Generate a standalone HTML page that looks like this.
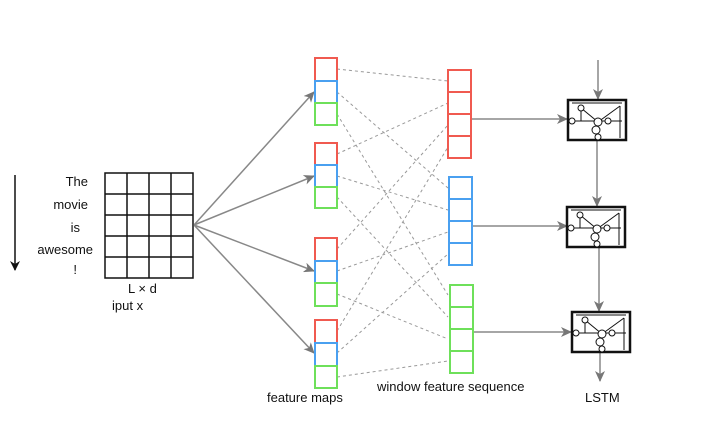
<!DOCTYPE html>
<html><head><meta charset="utf-8"><style>
html,body{margin:0;padding:0;background:#fff;}
svg{display:block;font-family:"Liberation Sans",sans-serif;}
</style></head><body>
<svg width="709" height="423" viewBox="0 0 709 423" xmlns="http://www.w3.org/2000/svg">
<defs>
<marker id="ar" markerWidth="12" markerHeight="10" refX="10" refY="5" orient="auto" markerUnits="userSpaceOnUse">
<path d="M0,0 L11,5 L0,10 L3,5 z" fill="#777"/></marker>
<marker id="ab" markerWidth="10" markerHeight="10" refX="9" refY="5" orient="auto" markerUnits="userSpaceOnUse">
<path d="M0,0 L10,5 L0,10 L3,5 z" fill="#111"/></marker>
<g id="lstm">
<rect x="0" y="0" width="58" height="40" fill="#fff" stroke="#111" stroke-width="2.5"/>
<g stroke="#111" stroke-width="1" fill="#fff">
<line x1="4" y1="21" x2="54" y2="21"/>
<line x1="13" y1="8" x2="13" y2="21"/>
<line x1="13" y1="8" x2="30" y2="22"/>
<line x1="52" y1="6" x2="30" y2="22"/>
<line x1="52" y1="6" x2="52" y2="38"/>
<line x1="30" y1="22" x2="30" y2="38"/>
<line x1="4" y1="3" x2="54" y2="3"/>
<circle cx="13" cy="8" r="3"/>
<circle cx="4" cy="21" r="3"/>
<circle cx="30" cy="22" r="4"/>
<circle cx="40" cy="21" r="3"/>
<circle cx="28" cy="30" r="4"/>
<circle cx="30" cy="37" r="3"/>
</g></g>
</defs>
<line x1="15" y1="175" x2="15" y2="270" stroke="#111" stroke-width="1.5" marker-end="url(#ab)"/>
<g font-size="13" fill="#111" text-anchor="end">
<text x="88" y="186">The</text><text x="88" y="209">movie</text><text x="80" y="232">is</text>
<text x="93" y="254">awesome</text><text x="77" y="274">!</text></g>
<g stroke="#111" stroke-width="1.5" fill="none">
<rect x="105" y="173" width="88" height="105"/>
<line x1="127" y1="173" x2="127" y2="278"/><line x1="149" y1="173" x2="149" y2="278"/><line x1="171" y1="173" x2="171" y2="278"/>
<line x1="105" y1="194" x2="193" y2="194"/><line x1="105" y1="215" x2="193" y2="215"/><line x1="105" y1="236" x2="193" y2="236"/><line x1="105" y1="257" x2="193" y2="257"/>
</g>
<text x="128" y="293" font-size="13" fill="#111">L × d</text>
<text x="112" y="310" font-size="13" fill="#111">iput x</text>
<g stroke="#888" stroke-width="1.5" marker-end="url(#ar)">
<line x1="194" y1="225" x2="314" y2="92"/><line x1="194" y1="225" x2="314" y2="176"/>
<line x1="194" y1="225" x2="314" y2="271"/><line x1="194" y1="225" x2="314" y2="353"/>
</g>
<g stroke="#999" stroke-width="1" stroke-dasharray="3,3" fill="none">
<line x1="337" y1="69" x2="448" y2="81"/><line x1="337" y1="154" x2="448" y2="103"/><line x1="337" y1="249" x2="448" y2="125"/><line x1="337" y1="331" x2="448" y2="147"/>
<line x1="337" y1="92" x2="448" y2="188"/><line x1="337" y1="176" x2="448" y2="210"/><line x1="337" y1="271" x2="448" y2="232"/><line x1="337" y1="353" x2="448" y2="254"/>
<line x1="337" y1="114" x2="448" y2="295"/><line x1="337" y1="197" x2="448" y2="317"/><line x1="337" y1="294" x2="448" y2="339"/><line x1="337" y1="377" x2="448" y2="361"/>
</g>
<g fill="#fff" stroke-width="2">
<rect x="315" y="58" width="22" height="23" stroke="#f05a50"/><rect x="315" y="81" width="22" height="22" stroke="#4aa0f0"/><rect x="315" y="103" width="22" height="22" stroke="#6ee05a"/>
<rect x="315" y="143" width="22" height="22" stroke="#f05a50"/><rect x="315" y="165" width="22" height="22" stroke="#4aa0f0"/><rect x="315" y="187" width="22" height="21" stroke="#6ee05a"/>
<rect x="315" y="238" width="22" height="23" stroke="#f05a50"/><rect x="315" y="261" width="22" height="22" stroke="#4aa0f0"/><rect x="315" y="283" width="22" height="23" stroke="#6ee05a"/>
<rect x="315" y="320" width="22" height="23" stroke="#f05a50"/><rect x="315" y="343" width="22" height="23" stroke="#4aa0f0"/><rect x="315" y="366" width="22" height="22" stroke="#6ee05a"/>
</g>
<g fill="#fff" stroke-width="2">
<g stroke="#f05a50"><rect x="448" y="70" width="23" height="22"/><rect x="448" y="92" width="23" height="22"/><rect x="448" y="114" width="23" height="22"/><rect x="448" y="136" width="23" height="22"/></g>
<g stroke="#4aa0f0"><rect x="449" y="177" width="23" height="22"/><rect x="449" y="199" width="23" height="22"/><rect x="449" y="221" width="23" height="22"/><rect x="449" y="243" width="23" height="22"/></g>
<g stroke="#6ee05a"><rect x="450" y="285" width="23" height="22"/><rect x="450" y="307" width="23" height="22"/><rect x="450" y="329" width="23" height="22"/><rect x="450" y="351" width="23" height="22"/></g>
</g>
<g stroke="#888" stroke-width="1.5" marker-end="url(#ar)">
<line x1="472" y1="119" x2="567" y2="119"/><line x1="473" y1="226" x2="567" y2="226"/><line x1="474" y1="332" x2="571" y2="332"/>
<line x1="598" y1="60" x2="598" y2="99"/><line x1="597" y1="141" x2="597" y2="206"/><line x1="599" y1="248" x2="599" y2="311"/><line x1="600" y1="353" x2="600" y2="381"/>
</g>
<use href="#lstm" x="568" y="100"/>
<use href="#lstm" x="567" y="207"/>
<use href="#lstm" x="572" y="312"/>
<g font-size="13" fill="#111">
<text x="267" y="402">feature maps</text>
<text x="377" y="391">window feature sequence</text>
<text x="585" y="402">LSTM</text>
</g>
</svg>
</body></html>
